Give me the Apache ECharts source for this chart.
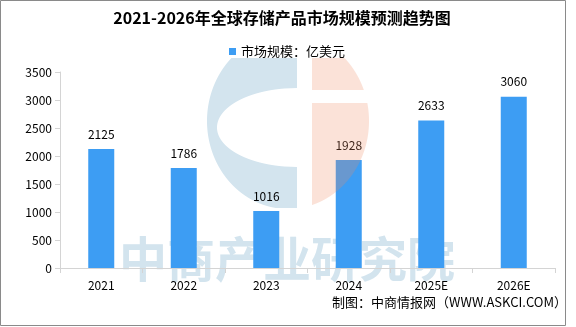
<!DOCTYPE html>
<html>
<head>
<meta charset="utf-8">
<script src="https://cdn.jsdelivr.net/npm/echarts@6/dist/echarts.min.js"></script>
<style>
html,body{margin:0;padding:0;background:#fff;}
#main{width:576px;height:327px;}
</style>
</head>
<body>
<div id="main"></div>
<script>
var titleText = '2021-2026年全球存储产品市场规模预测趋势图';
var seriesName = '市场规模：亿美元';
var categories = ['2021', '2022', '2023', '2024', '2025E', '2026E'];
var values = [2125, 1786, 1016, 1928, 2633, 3060];
var yMin = 0, yMax = 3500, yStep = 500;
var sourceText = '制图：中商情报网（WWW.ASKCI.COM）';
var watermarkText = '中商产业研究院';

var FONT = '"Noto Sans CJK SC", "Noto Sans", sans-serif';

// watermark logo helpers (decoration only)
function ew(cx, rx, cy, ry, y) {
  var t = (y - cy) / ry;
  if (Math.abs(t) >= 1) return 0;
  return rx * Math.sqrt(1 - t * t);
}
function blueC() {
  var cx = 288, cy = 121, rx = 81, ry = 88, xr = 297;
  var icy = 127.5, irx = 80, iry = 39.5;
  var y0 = 58, y1 = cy + ry * Math.sqrt(1 - Math.pow((xr - cx) / rx, 2));
  var left = [], right = [];
  for (var y = y0; y <= y1; y += 0.5) {
    left.push([cx - ew(cx, rx, cy, ry, y), y]);
    right.push([xr - ew(xr, irx, icy, iry, y), y]);
  }
  return left.concat(right.reverse());
}
function pinkPiece(ya, yb) {
  var cx = 288, cy = 121, rx = 81, ry = 88, xl = 312;
  var l = [], r = [];
  for (var y = ya; y <= yb; y += 0.5) {
    var w = ew(cx, rx, cy, ry, y);
    var a = Math.max(xl, cx - w), b = cx + w;
    if (b > a) { l.push([a, y]); r.push([b, y]); }
  }
  return l.concat(r.reverse());
}

var chart = echarts.init(document.getElementById('main'), null, {renderer: 'canvas'});
chart.setOption({
  animation: false,
  backgroundColor: '#fff',
  title: {
    text: titleText,
    left: 282,
    textAlign: 'center',
    top: 10,
    padding: 0,
    textStyle: {fontFamily: FONT, fontSize: 16, fontWeight: 'bold', color: '#000'}
  },
  legend: {
    data: [seriesName],
    left: 229,
    top: 45,
    padding: 0,
    icon: 'rect',
    itemWidth: 7,
    itemHeight: 7,
    itemGap: 6,
    textStyle: {fontFamily: FONT, fontSize: 13, color: '#000', padding: [0, 0, 0, 0]}
  },
  grid: {left: 60, right: 21, top: 72, bottom: 59, containLabel: false},
  xAxis: {
    type: 'category',
    data: categories,
    boundaryGap: true,
    axisLine: {show: true, lineStyle: {color: '#d4d4d4', width: 1}},
    axisTick: {show: true, length: 5, lineStyle: {color: '#d4d4d4'}},
    axisLabel: {fontFamily: FONT, fontSize: 12, color: '#000', margin: 11}
  },
  yAxis: {
    type: 'value',
    min: yMin,
    max: yMax,
    interval: yStep,
    axisLine: {show: true, lineStyle: {color: '#d4d4d4', width: 1}},
    axisTick: {show: true, length: 5, lineStyle: {color: '#d4d4d4'}},
    splitLine: {show: false},
    axisLabel: {
      fontFamily: FONT, fontSize: 12, color: '#000', margin: 8,
      formatter: function (v) { return String(v); }
    }
  },
  series: [{
    name: seriesName,
    type: 'bar',
    data: values,
    barWidth: 26,
    itemStyle: {color: '#3d9df3'},
    label: {
      show: true,
      position: 'top',
      distance: 9,
      fontFamily: FONT,
      fontSize: 12,
      color: '#000'
    }
  }],
  color: ['#3d9df3'],
  graphic: [
    {
      type: 'polygon',
      z: -10,
      silent: true,
      shape: {points: blueC()},
      style: {fill: '#d3e4ee'}
    },
    {
      type: 'text',
      z: -10,
      silent: true,
      x: 287,
      y: 259,
      style: {
        text: watermarkText,
        fontFamily: FONT,
        fontSize: 48,
        fontWeight: 'bold',
        fill: '#d3e4ee',
        align: 'center',
        verticalAlign: 'middle'
      }
    },
    {
      type: 'polygon',
      z: 100,
      silent: true,
      shape: {points: pinkPiece(58, 90)},
      style: {fill: 'rgba(240,140,100,0.25)'}
    },
    {
      type: 'polygon',
      z: 100,
      silent: true,
      shape: {points: pinkPiece(103, 215)},
      style: {fill: 'rgba(240,140,100,0.25)'}
    },
    {
      type: 'text',
      z: 100,
      silent: true,
      x: 567,
      y: 302,
      style: {
        text: sourceText,
        fontFamily: FONT,
        fontSize: 13,
        fill: '#000',
        align: 'right',
        verticalAlign: 'middle'
      }
    },
    {
      type: 'rect',
      z: 100,
      silent: true,
      shape: {x: 0.5, y: 0.5, width: 565, height: 325},
      style: {fill: 'none', stroke: '#8a8a8a', lineWidth: 1}
    }
  ]
});
</script>
</body>
</html>
